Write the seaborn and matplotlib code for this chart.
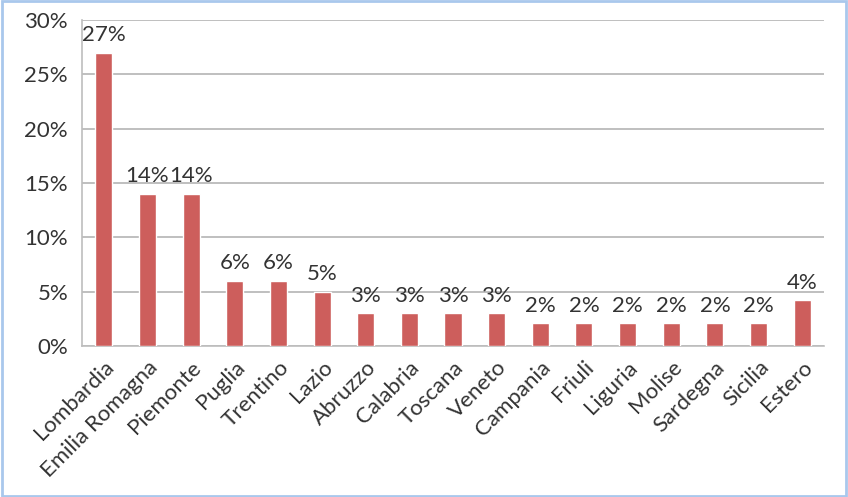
import matplotlib
matplotlib.use("Agg")
import matplotlib.pyplot as plt
import seaborn as sns
import pandas as pd
import numpy as np
from matplotlib.ticker import FixedLocator, PercentFormatter
from matplotlib.patches import Rectangle

regions = ["Lombardia", "Emilia Romagna", "Piemonte", "Puglia", "Trentino", "Lazio",
           "Abruzzo", "Calabria", "Toscana", "Veneto", "Campania", "Friuli", "Liguria",
           "Molise", "Sardegna", "Sicilia", "Estero"]
values = [27, 14, 14, 6, 6, 5, 3, 3, 3, 3, 2.1, 2.1, 2.1, 2.1, 2.1, 2.1, 4.2]
labels = ["27%", "14%", "14%", "6%", "6%", "5%", "3%", "3%", "3%", "3%", "2%", "2%",
          "2%", "2%", "2%", "2%", "4%"]

sns.set_style("white")
plt.rcParams['font.family'] = ['Lato', 'DejaVu Sans']

df = pd.DataFrame({"region": regions, "value": values})

fig = plt.figure(figsize=(8.48, 4.97), dpi=100)
ax = fig.add_axes([0.0967, 0.3038, 0.8750, 0.656])

sns.barplot(data=df, x="region", y="value", color="#CD5E5C", saturation=1,
            width=0.39, ax=ax, zorder=3)

ax.set_ylim(0, 30)
ax.set_xlim(-0.5, len(regions) - 0.5)
ax.yaxis.set_major_locator(FixedLocator([0, 5, 10, 15, 20, 25, 30]))
ax.yaxis.set_major_formatter(PercentFormatter(decimals=0))
ax.yaxis.grid(True, color="#B4B4B4", linewidth=1.2, zorder=0)
ax.set_axisbelow(True)

for s in ["top", "right"]:
    ax.spines[s].set_visible(False)
ax.spines["left"].set_color("#BDBDBD")
ax.spines["bottom"].set_color("#BDBDBD")
ax.spines["left"].set_linewidth(1.2)
ax.spines["bottom"].set_linewidth(1.2)

fs = 16
ax.set_xlabel("")
ax.set_ylabel("")
ax.tick_params(axis="y", length=5, color="#BDBDBD", labelsize=fs, labelcolor="#333333", pad=5)
ax.tick_params(axis="x", which="major", length=0, labelsize=fs, labelcolor="#333333", pad=8)
ax.set_xticks(np.arange(len(regions) + 1) - 0.5, minor=True)
ax.tick_params(axis="x", which="minor", length=6, color="#BDBDBD", width=1.2)
plt.setp(ax.get_xticklabels(), rotation=45, ha="right", rotation_mode="anchor")

for i, (v, lab) in enumerate(zip(values, labels)):
    ax.text(i, v + 0.7, lab, ha="center", va="bottom", fontsize=fs, color="#333333")

fig.patches.append(Rectangle((0.002, 0.003), 0.996, 0.994, transform=fig.transFigure,
                             fill=False, edgecolor="#A9C8EC", linewidth=2))

fig.savefig("out.png", dpi=100)
